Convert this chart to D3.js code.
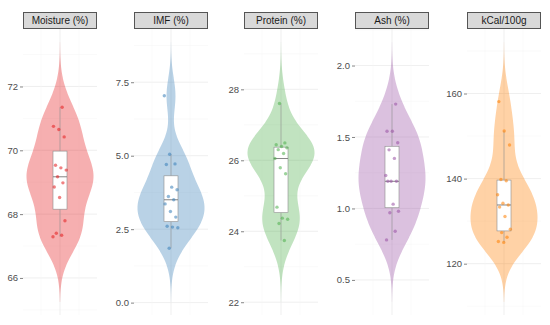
<!DOCTYPE html>
<html>
<head>
<meta charset="utf-8">
<script src="https://cdn.jsdelivr.net/npm/d3@7"></script>
<style>
  body { margin: 0; background: #fff; }
  text { font-family: "Liberation Sans", Arial, sans-serif; }
</style>
</head>
<body>
<div id="canvas"></div>
<script>
// facet names, in order
var vars = ["Moisture (%)", "IMF (%)", "Protein (%)", "Ash (%)", "kCal/100g"];

// sample values (15 samples per variable)
var moisture = [67.29, 67.34, 67.40, 67.79, 68.52, 68.85, 68.98, 69.17, 69.38, 69.45, 69.53, 70.42, 70.65, 70.75, 71.35];
var imf      = [1.85, 2.55, 2.57, 2.60, 2.91, 3.10, 3.36, 3.50, 3.61, 3.84, 3.93, 4.70, 4.72, 5.05, 7.04];
var protein  = [23.74, 24.22, 24.34, 24.37, 24.68, 25.62, 25.79, 26.05, 26.19, 26.30, 26.35, 26.39, 26.44, 26.49, 27.60];
var ash      = [0.78, 0.84, 0.97, 0.98, 1.03, 1.19, 1.19, 1.19, 1.23, 1.35, 1.41, 1.46, 1.54, 1.54, 1.73];
var kcal     = [125.0, 125.2, 126.2, 127.3, 128.1, 131.1, 133.3, 133.8, 134.2, 136.2, 139.5, 139.8, 147.9, 151.2, 158.1];

// y tick labels per facet
var ticksMoisture = [66, 68, 70, 72];
var ticksImf      = [0, 2.5, 5, 7.5];
var ticksProtein  = [22, 24, 26, 28];
var ticksAsh      = [0.5, 1, 1.5, 2];
var ticksKcal     = [120, 140, 160];

var tickFormats = ["d", ".1f", "d", ".1f", "d"];
var colors = ["#E41A1C", "#377EB8", "#4DAF4A", "#984EA3", "#FF7F00"];

var series = [moisture, imf, protein, ash, kcal];
var tickSets = [ticksMoisture, ticksImf, ticksProtein, ticksAsh, ticksKcal];

// layout
var W = 550, H = 325;
var panelLeft = [23, 134, 244, 355, 467],
    panelW = 74,
    panelTop = 29,
    panelBottom = 315,
    stripH = 17;

var svg = d3.select('#canvas')
    .append('svg')
    .attr('width', W)
    .attr('height', H);

// gaussian kde like ggplot's stat_ydensity (bw.nrd0, trim = FALSE)
function kde(vals){
    var s = vals.slice().sort(d3.ascending);
    var n = s.length;
    var sd = d3.deviation(s);
    var iqr = d3.quantile(s, 0.75) - d3.quantile(s, 0.25);
    var bw = 0.9 * Math.min(sd, iqr / 1.34) * Math.pow(n, -0.2);
    var lo = s[0] - 3 * bw, hi = s[n - 1] + 3 * bw;
    var out = [];
    for (var i = 0; i < 512; i++){
        var v = lo + (hi - lo) * i / 511;
        var d = d3.mean(s, function(x){
            var z = (v - x) / bw;
            return Math.exp(-0.5 * z * z) / (bw * Math.sqrt(2 * Math.PI));
        });
        out.push({v: v, d: d});
    }
    return {pts: out, lo: lo, hi: hi};
}

series.forEach(function(vals, k){
    var x0 = panelLeft[k];
    var cx = x0 + panelW / 2;
    var dens = kde(vals);
    var pad = (dens.hi - dens.lo) * 0.05;

    var y = d3.scaleLinear()
        .domain([dens.lo - pad, dens.hi + pad])
        .range([panelBottom, panelTop]);

    var g = svg.append('g').attr('class', 'facet');

    // grid
    var ticks = tickSets[k];
    var step = ticks[1] - ticks[0];
    var minor = [];
    for (var t = ticks[0] - step / 2; t < y.domain()[1]; t += step){
        if (t > y.domain()[0]) minor.push(t);
    }
    g.selectAll('.minor')
        .data(minor)
        .enter().append('line')
        .attr('x1', x0).attr('x2', x0 + panelW)
        .attr('y1', function(d){ return y(d); })
        .attr('y2', function(d){ return y(d); })
        .style('stroke', '#f4f4f4').style('stroke-width', 0.5);
    g.selectAll('.major')
        .data(ticks)
        .enter().append('line')
        .attr('x1', x0).attr('x2', x0 + panelW)
        .attr('y1', function(d){ return y(d); })
        .attr('y2', function(d){ return y(d); })
        .style('stroke', '#ebebeb').style('stroke-width', 0.8);
    g.selectAll('.vgrid')
        .data([-19, 0, 19])
        .enter().append('line')
        .attr('x1', function(d){ return cx + d; })
        .attr('x2', function(d){ return cx + d; })
        .attr('y1', panelTop).attr('y2', panelBottom)
        .style('stroke', function(d){ return d === 0 ? '#ebebeb' : '#f4f4f4'; })
        .style('stroke-width', function(d){ return d === 0 ? 0.8 : 0.5; });

    // violin
    var maxD = d3.max(dens.pts, function(d){ return d.d; });
    var halfW = 33.5;
    var area = d3.area()
        .x0(function(d){ return cx - d.d / maxD * halfW; })
        .x1(function(d){ return cx + d.d / maxD * halfW; })
        .y(function(d){ return y(d.v); });
    g.append('path')
        .attr('d', area(dens.pts))
        .style('fill', colors[k])
        .style('fill-opacity', 0.35)
        .style('stroke', 'none');

    // boxplot
    var s = vals.slice().sort(d3.ascending);
    var q1 = d3.quantile(s, 0.25), med = d3.quantile(s, 0.5), q3 = d3.quantile(s, 0.75);
    var iqr = q3 - q1;
    var wLo = d3.min(s.filter(function(v){ return v >= q1 - 1.5 * iqr; }));
    var wHi = d3.max(s.filter(function(v){ return v <= q3 + 1.5 * iqr; }));
    var bw = 7;
    g.append('line')
        .attr('x1', cx).attr('x2', cx)
        .attr('y1', y(q3)).attr('y2', y(wHi))
        .style('stroke', '#999').style('stroke-width', 0.6);
    g.append('line')
        .attr('x1', cx).attr('x2', cx)
        .attr('y1', y(q1)).attr('y2', y(wLo))
        .style('stroke', '#999').style('stroke-width', 0.6);
    g.append('rect')
        .attr('x', cx - bw).attr('width', bw * 2)
        .attr('y', y(q3)).attr('height', y(q1) - y(q3))
        .style('fill', '#fff')
        .style('stroke', '#8c8c8c').style('stroke-width', 0.6);
    g.append('line')
        .attr('x1', cx - bw).attr('x2', cx + bw)
        .attr('y1', y(med)).attr('y2', y(med))
        .style('stroke', '#777').style('stroke-width', 0.9);

    // jittered points (deterministic spread)
    g.selectAll('.pt')
        .data(vals)
        .enter().append('circle')
        .attr('class', 'pt')
        .attr('cx', function(d, i){ return cx + (((i * 0.618034 + k * 0.37) % 1) - 0.5) * 14; })
        .attr('cy', function(d){ return y(d); })
        .attr('r', 1.7)
        .style('fill', colors[k])
        .style('fill-opacity', 0.55);

    // y axis
    var axis = d3.axisLeft(y)
        .tickValues(ticks)
        .tickSize(3)
        .tickPadding(2)
        .tickFormat(d3.format(tickFormats[k]));
    var ax = svg.append('g')
        .attr('class', 'axis')
        .attr('transform', 'translate(' + x0 + ',0)')
        .call(axis);
    ax.select('.domain').remove();
    ax.selectAll('line').style('stroke', '#333').style('stroke-width', 0.6);
    ax.selectAll('text')
        .style('fill', '#4d4d4d')
        .style('font-size', '9.5px');

    // strip
    svg.append('rect')
        .attr('x', x0 + 0.5).attr('y', panelTop - stripH + 0.5)
        .attr('width', panelW - 1).attr('height', stripH - 1)
        .style('fill', '#d9d9d9')
        .style('stroke', '#555').style('stroke-width', 1);
    svg.append('text')
        .attr('x', cx).attr('y', panelTop - stripH / 2)
        .attr('dy', '0.35em')
        .attr('text-anchor', 'middle')
        .style('font-size', '10px')
        .style('fill', '#1a1a1a')
        .text(vars[k]);
});
</script>
</body>
</html>
